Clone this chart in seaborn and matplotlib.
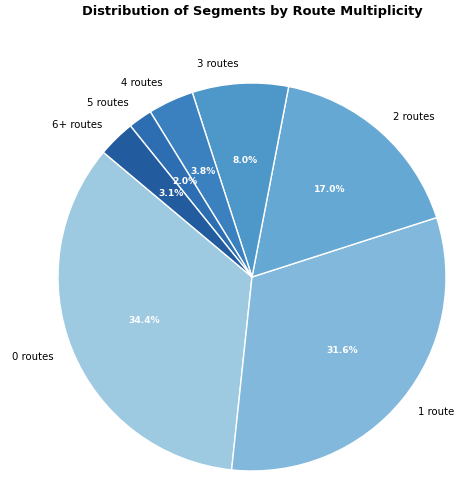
import numpy as np
import matplotlib
matplotlib.use('Agg')
import matplotlib.pyplot as plt
import seaborn as sns

sns.set_theme(style='white')
plt.rcParams['font.family'] = ['DejaVu Sans']

# route multiplicity share of segments (percent)
labels = ['0 routes', '1 route', '2 routes', '3 routes', '4 routes', '5 routes', '6+ routes']
shares = [34.4, 31.6, 17.0, 8.0, 3.8, 2.0, 3.1]

# blues, light to dark
colors = ['#9ecae1', '#82b8dc', '#64a8d3', '#4e97c9', '#3b81bf', '#2c6eb1', '#225b9e']

fig = plt.figure(figsize=(4.69, 4.79), dpi=100)
R = 194
lim = 1.02
ax = fig.add_axes([(252 - R * lim) / 469, 1 - (277 + R * lim) / 479,
                   2 * R * lim / 469, 2 * R * lim / 479])
wedges, texts, autotexts = ax.pie(shares, labels=labels, autopct='%1.1f%%', startangle=140,
                                  colors=colors, pctdistance=0.6, labeldistance=1.1,
                                  wedgeprops={'edgecolor': 'white', 'linewidth': 1},
                                  textprops={'fontsize': 7.3, 'color': 'black'})
for t in autotexts:
    t.set_color('white')
    t.set_fontweight('bold')
    t.set_fontsize(6.6)
ax.set_xlim(-lim, lim)
ax.set_ylim(-lim, lim)
ax.set_aspect('equal')
fig.suptitle('Distribution of Segments by Route Multiplicity', fontsize=9.4, fontweight='bold',
             color='black', x=252 / 469, y=1 - 5 / 479, va='top')
plt.savefig('out.png', dpi=100)
